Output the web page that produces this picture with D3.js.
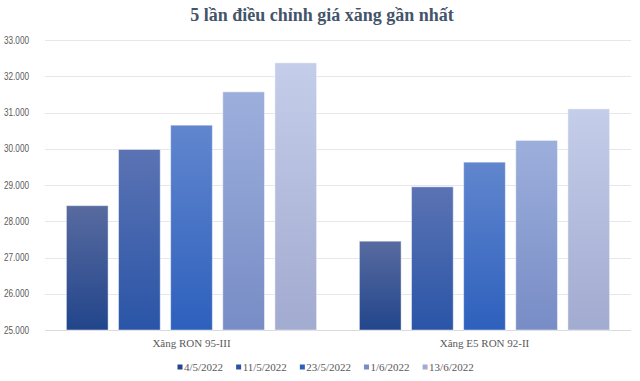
<!DOCTYPE html>
<html>
<head>
<meta charset="utf-8">
<script src="https://cdn.jsdelivr.net/npm/d3@7"></script>
<style>
  body { margin: 0; background: #fff; }
  .chart svg { display: block; }
</style>
</head>
<body>
<div class="chart"></div>
<script>
const categories = ['Xăng RON 95-III', 'Xăng E5 RON 92-II']
const seriesNames = ['4/5/2022', '11/5/2022', '23/5/2022', '1/6/2022', '13/6/2022']
const seriesValues = [
    [28430, 27450],
    [29980, 28950],
    [30650, 29630],
    [31570, 30230],
    [32370, 31100]
]
const yTicks = [25000, 26000, 27000, 28000, 29000, 30000, 31000, 32000, 33000]
const colorsTop = ['#586ba0', '#5b73b3', '#6186ce', '#9cafdc', '#c4cde9']
const colorsBottom = ['#22458b', '#2a55a7', '#2d60bd', '#788cc6', '#a2abd0']

const W = 640, H = 381
const margin = { top: 40, right: 9, bottom: 51, left: 45 },
    width = W - margin.left - margin.right,
    height = H - margin.top - margin.bottom

const root = d3.select('.chart')
    .append('svg')
    .attr('width', W)
    .attr('height', H)

const defs = root.append('defs')
seriesNames.forEach((s, i) => {
    const g = defs.append('linearGradient')
        .attr('id', 'grad' + i)
        .attr('x1', 0).attr('y1', 0).attr('x2', 0).attr('y2', 1)
    g.append('stop').attr('offset', '0%').attr('stop-color', colorsTop[i])
    g.append('stop').attr('offset', '100%').attr('stop-color', colorsBottom[i])
})

root.append('text')
    .text('5 lần điều chỉnh giá xăng gần nhất')
    .attr('x', W / 2 + 2)
    .attr('y', 21)
    .attr('text-anchor', 'middle')
    .style('font-family', '"Liberation Serif", "Times New Roman", serif')
    .style('font-weight', 'bold')
    .style('font-size', '18px')
    .style('fill', '#44546a')

const svg = root.append('g')
    .attr('transform', `translate(${margin.left},${margin.top})`)

const y = d3.scaleLinear()
    .domain([25000, 33000])
    .range([height, 0])

const x0 = d3.scaleBand()
    .domain(categories)
    .range([0, width])

const outer = 21.4
const x1 = d3.scaleBand()
    .domain(seriesNames)
    .range([outer, x0.bandwidth() - outer])
    .paddingInner(0.2)
    .paddingOuter(0)

// gridlines
svg.append('g')
    .selectAll('line')
    .data(yTicks)
    .join('line')
    .attr('x1', 0)
    .attr('x2', width)
    .attr('y1', d => Math.round(y(d)) + 0.5)
    .attr('y2', d => Math.round(y(d)) + 0.5)
    .attr('stroke', d => d === 25000 ? '#d9d9e0' : '#e6e6ee')
    .attr('stroke-width', 1)

const fmt = d => d3.format(',')(d).replace(/,/g, '.')

svg.append('g')
    .call(d3.axisLeft(y).tickValues(yTicks).tickFormat(fmt).tickSize(0).tickPadding(16))
    .call(g => g.select('.domain').remove())
    .selectAll('text')
    .attr('textLength', 25)
    .attr('lengthAdjust', 'spacingAndGlyphs')
    .style('font-family', '"Liberation Sans", Arial, sans-serif')
    .style('font-size', '10px')
    .style('fill', '#595959')

// bars
const groups = svg.selectAll('g.cat')
    .data(categories)
    .join('g')
    .attr('class', 'cat')
    .attr('transform', d => `translate(${x0(d)},0)`)

groups.selectAll('rect')
    .data((c, ci) => seriesNames.map((s, si) => ({ s, si, v: seriesValues[si][ci] })))
    .join('rect')
    .attr('x', d => x1(d.s))
    .attr('y', d => y(d.v))
    .attr('width', x1.bandwidth())
    .attr('height', d => height - y(d.v))
    .attr('fill', d => `url(#grad${d.si})`)
    .attr('stroke', 'rgba(255,255,255,0.45)')
    .attr('stroke-width', 1)

// category labels
svg.append('g')
    .attr('transform', `translate(0,${height})`)
    .call(d3.axisBottom(x0).tickSize(0).tickPadding(9))
    .call(g => g.select('.domain').remove())
    .selectAll('text')
    .style('font-family', '"Liberation Serif", "Times New Roman", serif')
    .style('font-size', '11px')
    .style('fill', '#595959')

// legend
const legend = root.append('g')
    .attr('class', 'legend')

const items = legend.selectAll('g')
    .data(seriesNames)
    .join('g')

items.append('rect')
    .attr('width', 5)
    .attr('height', 5)
    .attr('y', 364.5)
    .attr('fill', (d, i) => colorsBottom[i])

items.append('text')
    .text(d => d)
    .attr('x', 6.5)
    .attr('y', 371)
    .style('font-family', '"Liberation Serif", "Times New Roman", serif')
    .style('font-size', '11px')
    .style('fill', '#595959')

let lx = 177.5
items.each(function () {
    const w = d3.select(this).select('text').node().getComputedTextLength()
    d3.select(this).attr('transform', `translate(${lx},0)`)
    lx += 6.5 + w + 13
})
</script>
</body>
</html>
